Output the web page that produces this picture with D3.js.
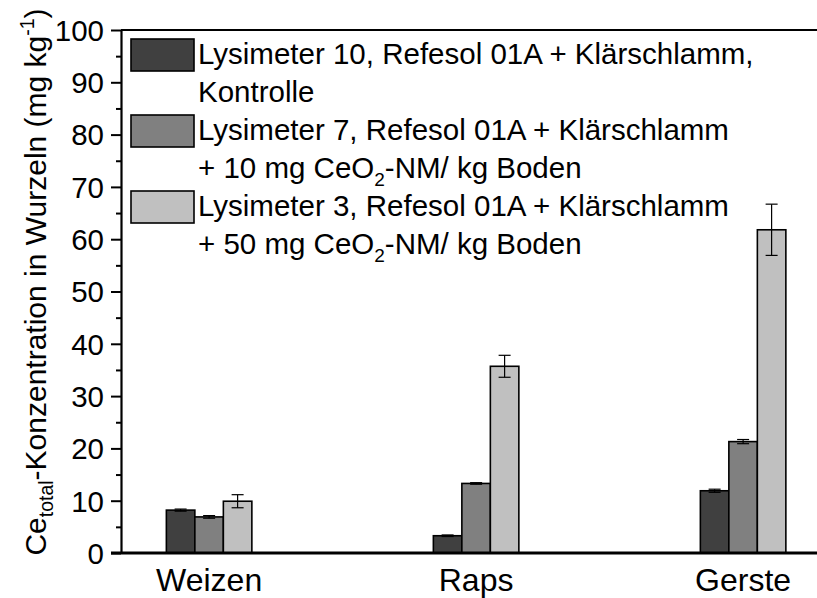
<!DOCTYPE html>
<html>
<head>
<meta charset="utf-8">
<script src="https://cdn.jsdelivr.net/npm/d3@7"></script>
<style>
  html, body { margin: 0; padding: 0; background: #fff; }
  svg { display: block; }
  svg text { font-family: "Liberation Sans", Arial, sans-serif; }
</style>
</head>
<body>
<svg id="chart" width="817" height="598"></svg>
<script>
// Crops on the x axis
const categories = ["Weizen", "Raps", "Gerste"];

// Series: mean Ce concentration in roots (mg/kg) and standard deviation
const seriesNames = [
  ["Lysimeter 10, Refesol 01A + Klärschlamm,", "Kontrolle"],
  ["Lysimeter 7, Refesol 01A + Klärschlamm", "+ 10 mg CeO|2|-NM/ kg Boden"],
  ["Lysimeter 3, Refesol 01A + Klärschlamm", "+ 50 mg CeO|2|-NM/ kg Boden"]
];
const lys10Values = [8.2, 3.3, 11.9];
const lys10Errors = [0.2, 0.15, 0.3];
const lys7Values  = [6.9, 13.3, 21.3];
const lys7Errors  = [0.25, 0.15, 0.4];
const lys3Values  = [9.9, 35.7, 61.8];
const lys3Errors  = [1.25, 2.1, 4.9];

const yTicks = [0, 10, 20, 30, 40, 50, 60, 70, 80, 90, 100];
const yMinorTicks = [5, 15, 25, 35, 45, 55, 65, 75, 85, 95];

const series = [
  { values: lys10Values, errors: lys10Errors, fill: "#404040" },
  { values: lys7Values,  errors: lys7Errors,  fill: "#808080" },
  { values: lys3Values,  errors: lys3Errors,  fill: "#c0c0c0" }
];

const FONT = "Liberation Sans, Arial, sans-serif";
const svg = d3.select("#chart");
const plotLeft = 121, plotTop = 30, plotBottom = 553;

// Category positions run on an index axis; the plot frame continues past the right edge
const x = d3.scaleLinear().domain([-0.33, 2.33]).range([plotLeft, plotLeft + 267 * 2.66]);
const y = d3.scaleLinear().domain([0, 100]).range([plotBottom, plotTop]);
const barW = 28.5;

// Bars
const g = svg.append("g");
series.forEach((s, si) => {
  categories.forEach((c, ci) => {
    const x0 = x(ci) + (si - 1.5) * barW;
    g.append("rect")
      .attr("x", x0).attr("y", y(s.values[ci]))
      .attr("width", barW).attr("height", y(0) - y(s.values[ci]))
      .attr("fill", s.fill).attr("stroke", "#000").attr("stroke-width", 1.6);
  });
});

// Error bars
series.forEach((s, si) => {
  categories.forEach((c, ci) => {
    const cx = x(ci) + (si - 1) * barW;
    const v = s.values[ci], e = s.errors[ci];
    const eg = g.append("g").attr("stroke", "#000").attr("stroke-width", 1.2);
    eg.append("line").attr("x1", cx).attr("x2", cx).attr("y1", y(v + e)).attr("y2", y(v - e));
    eg.append("line").attr("x1", cx - 6).attr("x2", cx + 6).attr("y1", y(v + e)).attr("y2", y(v + e));
    eg.append("line").attr("x1", cx - 6).attr("x2", cx + 6).attr("y1", y(v - e)).attr("y2", y(v - e));
  });
});

// Top frame line
svg.append("line").attr("x1", plotLeft).attr("x2", 830).attr("y1", plotTop).attr("y2", plotTop)
  .attr("stroke", "#000").attr("stroke-width", 2);

// Y axis
const yAxis = d3.axisLeft(y).tickValues(yTicks).tickSize(10).tickPadding(7).tickSizeOuter(0);
const ya = svg.append("g").attr("transform", `translate(${plotLeft},0)`).call(yAxis);
ya.attr("font-family", FONT);
ya.select(".domain").attr("stroke-width", 2.2);
ya.selectAll(".tick line").attr("stroke-width", 2);
ya.selectAll("text").attr("font-size", 29.5).attr("fill", "#000").attr("dy", "0.35em");
const yMinor = d3.axisLeft(y).tickValues(yMinorTicks).tickSize(5).tickFormat("").tickSizeOuter(0);
const ym = svg.append("g").attr("transform", `translate(${plotLeft},0)`).call(yMinor);
ym.select(".domain").remove();
ym.selectAll(".tick line").attr("stroke-width", 2);

// X axis
const xa = svg.append("g").attr("transform", `translate(0,${plotBottom})`);
xa.append("line").attr("x1", plotLeft - 10).attr("x2", 830).attr("stroke", "#000").attr("stroke-width", 3);
categories.forEach((c, ci) => {
  xa.append("text").attr("x", x(ci)).attr("y", 37.5).attr("text-anchor", "middle")
    .attr("font-family", FONT).attr("font-size", 32).attr("fill", "#000").text(c);
});

// Y axis title
const yt = svg.append("text")
  .attr("transform", `translate(46,282) rotate(-90)`)
  .attr("text-anchor", "middle").attr("font-family", FONT)
  .attr("font-size", 30).attr("fill", "#000");
yt.append("tspan").text("Ce");
yt.append("tspan").attr("font-size", 19.5).attr("dy", 7).text("total");
yt.append("tspan").attr("dy", -7).text("-Konzentration in Wurzeln (mg kg");
yt.append("tspan").attr("font-size", 19.5).attr("dy", -12).text("-1");
yt.append("tspan").attr("dy", 12).text(")");

// Legend
const lg = svg.append("g");
series.forEach((s, si) => {
  const y0 = 39 + si * 76;
  lg.append("rect").attr("x", 131).attr("y", y0).attr("width", 63).attr("height", 32)
    .attr("fill", s.fill).attr("stroke", "#000").attr("stroke-width", 1.6);
  seriesNames[si].forEach((line, li) => {
    const t = lg.append("text").attr("x", 198).attr("y", y0 + 25 + li * 38)
      .attr("font-family", FONT).attr("font-size", 29.5).attr("fill", "#000");
    const parts = line.split("|");
    parts.forEach((p, pi) => {
      if (pi % 2 === 1) {
        t.append("tspan").attr("font-size", 19).attr("dy", 8).text(p);
      } else {
        const ts = t.append("tspan").text(p);
        if (pi > 0) ts.attr("dy", -8);
      }
    });
  });
});
</script>
</body>
</html>
